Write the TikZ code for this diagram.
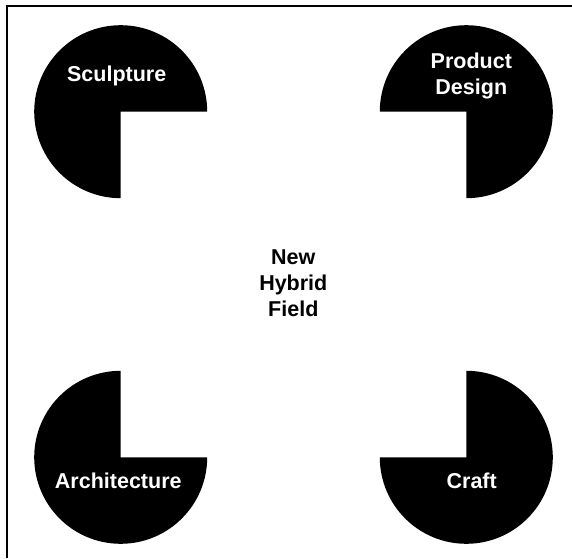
\documentclass[tikz,border=0pt]{standalone}
\usepackage{fontspec}
\setmainfont{Liberation Sans}
\usepackage{tikz}

\begin{document}
\begin{tikzpicture}[x=1pt, y=1pt,
	pac/.style={fill=black},
	lbl/.style={text=white, font=\bfseries\fontsize{21.5}{26}\selectfont, align=center},
	mid/.style={text=black, font=\bfseries\fontsize{21.5}{26}\selectfont, align=center}]
				\useasboundingbox (0,0) rectangle (572,558);
				%frame
				\draw[line width=2] (6.5,0) -- (6.5,551.5) -- (572,551.5);
				%discs, each missing the quarter that faces the middle
				\fill[pac] (120.7,446.3) -- ++(0:86.5) arc (0:270:86.5) -- cycle;
				\fill[pac] (466.3,446.3) -- ++(270:86.5) arc (270:540:86.5) -- cycle;
				\fill[pac] (120.7,100.7) -- ++(90:86.5) arc (90:360:86.5) -- cycle;
				\fill[pac] (466.3,100.7) -- ++(180:86.5) arc (180:450:86.5) -- cycle;
				%labels
				\node[lbl] (sculpture) at (116.7,482) {Sculpture};
				\node[lbl] (product) at (471.3,482.5) {Product\\Design};
				\node[lbl] (architecture) at (118.3,77.3) {Architecture};
				\node[lbl] (craft) at (471.7,77.3) {Craft};
				\node[mid] (hybrid) at (293.3,275) {New\\Hybrid\\Field};
			\end{tikzpicture}
\end{document}
